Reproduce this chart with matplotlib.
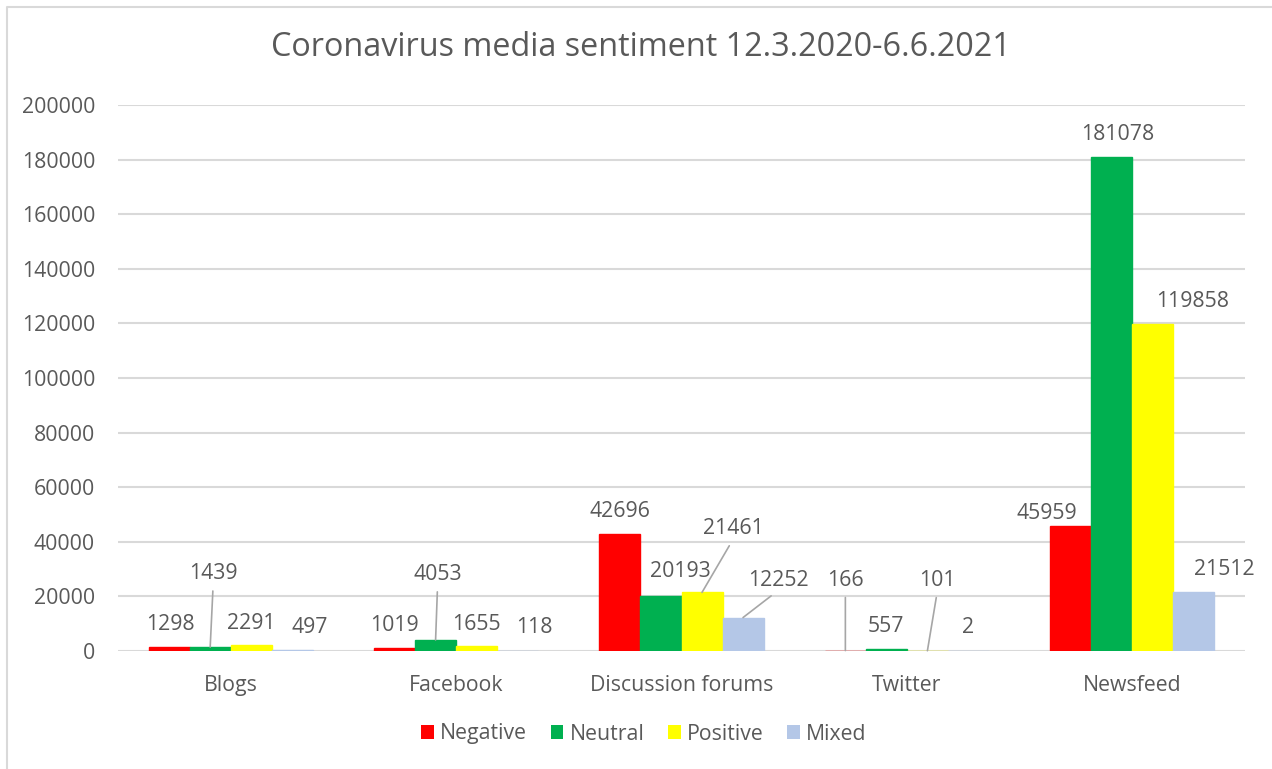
import matplotlib
matplotlib.use("Agg")
import matplotlib.pyplot as plt
from matplotlib.patches import Patch
from matplotlib.lines import Line2D
import numpy as np

categories = ["Blogs", "Facebook", "Discussion forums", "Twitter", "Newsfeed"]
series_names = ["Negative", "Neutral", "Positive", "Mixed"]
negative = [1298, 1019, 42696, 166, 45959]
neutral = [1439, 4053, 20193, 557, 181078]
positive = [2291, 1655, 21461, 101, 119858]
mixed = [497, 118, 12252, 2, 21512]
yticks = list(range(0, 200001, 20000))

colors = ["#FF0000", "#00B050", "#FFFF00", "#B4C7E7"]
TXT = "#595959"
FONT = ["Open Sans", "DejaVu Sans"]
plt.rcParams['font.family'] = FONT
FS = 15.3

# label offsets in pixels (dx, dy from bar top centre to label centre), leader flag
label_offsets = [
    [(1, 25, False), (3, 76, True), (0, 24, False), (18, 25, False)],
    [(0, 25, False), (2, 68, True), (0, 24, False), (17, 26, False)],
    [(0, 25, False), (19, 27, False), (31, 66, True), (35, 40, True)],
    [(0, 73, True), (0, 25, False), (10, 73, True), (0, 26, False)],
    [(-24, 15, False), (6, 25, False), (40, 25, False), (30, 25, False)],
]

W, H = 1272, 769
fig = plt.figure(figsize=(W / 100, H / 100), dpi=100)
# chart-area border (only top and left visible in the reference)
fig.lines.append(Line2D([7 / W, 7 / W, 1.0], [0.0, (H - 7) / H, (H - 7) / H],
                        transform=fig.transFigure, color="#D9D9D9", linewidth=1.5))

ax = fig.add_axes([118 / W, (H - 651) / H, (1245 - 118) / W, (651 - 105) / H])

data = [negative, neutral, positive, mixed]
x = np.arange(len(categories))
bw = 0.182
for s, (vals, col) in enumerate(zip(data, colors)):
    xs = x + (s - 1.5) * bw
    ax.bar(xs, vals, width=bw, color=col, edgecolor=col, linewidth=1.0,
           zorder=3, label=series_names[s])
    for i, v in enumerate(vals):
        dx, dy, lead = label_offsets[i][s]
        kw = {}
        if lead:
            kw = dict(arrowprops=dict(arrowstyle='-', color="#A6A6A6", lw=1.2,
                                      shrinkA=3, shrinkB=0, relpos=(0.5, 0)))
        ax.annotate(str(v), xy=(xs[i], v), xytext=(dx, dy - 8),
                    textcoords='offset pixels', ha='center', va='baseline',
                    fontsize=FS, color=TXT, zorder=4, **kw)

ax.set_xlim(-0.5, len(categories) - 0.5)
ax.set_ylim(0, 200000)
ax.set_yticks(yticks)
ax.set_yticklabels([str(t) for t in yticks])
ax.set_xticks(x)
ax.set_xticklabels(categories)
ax.tick_params(axis='both', length=0, labelsize=FS, labelcolor=TXT)
ax.tick_params(axis='y', pad=16.5)
ax.tick_params(axis='x', pad=17)
ax.yaxis.grid(True, color="#D9D9D9", linewidth=1.5, zorder=0)
ax.set_axisbelow(True)
for sp in ax.spines.values():
    sp.set_visible(False)

fig.text(641 / W, (H - 47) / H, "Coronavirus media sentiment 12.3.2020-6.6.2021",
         ha='center', va='center', fontsize=23.3, color=TXT)

handles = [Patch(facecolor=c, edgecolor='none') for c in colors]
fig.legend(handles, series_names, loc='center', bbox_to_anchor=(644 / W, (H - 734) / H),
           ncol=4, frameon=False, fontsize=FS, labelcolor=TXT,
           handlelength=0.6, handleheight=0.6, handletextpad=0.3,
           columnspacing=1.1, borderpad=0)

fig.savefig("out.png", dpi=100)
